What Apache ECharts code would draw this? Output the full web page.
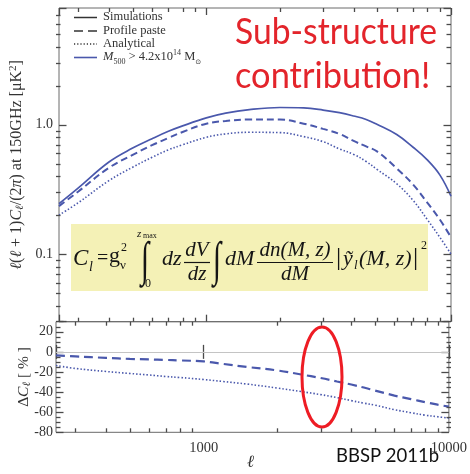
<!DOCTYPE html>
<html><head><meta charset="utf-8">
<script src="https://cdn.jsdelivr.net/npm/echarts@6/dist/echarts.min.js"></script>
<style>html,body{margin:0;padding:0;background:#fff}#c{width:470px;height:474px}</style>
</head><body><div id="c"></div>
<script>
// ---- data ----
const ell = [250,300,400,500,600,700,800,1000,1200,1500,2000,2500,3000,3500,4000,4500,5000,6000,7000,8000,9000,10000];
const simulations  = [0.245,0.325,0.515,0.66,0.78,0.89,0.98,1.13,1.23,1.31,1.36,1.35,1.30,1.24,1.17,1.10,1.005,0.84,0.67,0.535,0.41,0.28];
const profilePaste = [0.235,0.305,0.465,0.585,0.695,0.79,0.88,1.02,1.07,1.10,1.10,1.02,0.93,0.85,0.75,0.68,0.62,0.46,0.345,0.25,0.185,0.135];
const analytical   = [0.20,0.25,0.37,0.47,0.56,0.64,0.70,0.80,0.85,0.875,0.87,0.81,0.74,0.65,0.59,0.52,0.45,0.35,0.26,0.185,0.135,0.10];
const deltaProfile    = [-3.5,-4.5,-6,-7,-7.5,-8,-8.5,-9.5,-12,-15,-18.5,-22.5,-26,-29.5,-32.5,-35.5,-38.5,-43.5,-47,-50,-52.5,-54.5];
const deltaAnalytical = [-13.5,-16.5,-19.5,-21.5,-23,-24.5,-25.5,-27.5,-29.5,-32,-36,-39.5,-42.5,-45.5,-48.5,-51,-53,-57.5,-60.5,-63,-64.5,-66];
const xRange = [250, 10000];
const yTopRange = [0.03, 8];
const yBotRange = [-80, 30];
const xLabelValues = [1000, 10000];
const xMinorTicks = [300,400,500,600,700,800,900,2000,3000,4000,5000,6000,7000,8000,9000];
const yTopLabelValues = [0.1, 1];
const yTopLabelTexts = ['0.1', '1.0'];
const yTopMinorTicks = [0.04,0.05,0.06,0.07,0.08,0.09,0.2,0.3,0.4,0.5,0.6,0.7,0.8,0.9,2,3,4,5,6,7];
const yBotMinorTicks = [-75,-70,-65,-55,-50,-45,-35,-30,-25,-15,-10,-5,5,10,15,25];
const legendNames = ['Simulations','Profile paste','Analytical'];

// ---- styling ----
const BLUE = '#4a58ac';
const SERIF = 'Liberation Serif';
const FRAME = '#6a6a6a';
const TICK = '#4a4a4a';
const GRIDS = [
  {left: 56, top: 8, width: 395, height: 313.7},
  {left: 56, top: 321.7, width: 395, height: 110.6}
];
const zip = (xs, ys) => xs.map((x, i) => [x, ys[i]]);

function richSet(size, color) {
  const s = Math.round(size * 0.68);
  return {
    n:   {fontFamily: SERIF, fontSize: size, color: color, lineHeight: size + 2},
    i:   {fontFamily: SERIF, fontSize: size, color: color, fontStyle: 'italic', lineHeight: size + 2},
    sub: {fontFamily: SERIF, fontSize: s, color: color, fontStyle: 'italic', verticalAlign: 'bottom', lineHeight: s},
    sup: {fontFamily: SERIF, fontSize: s, color: color, verticalAlign: 'top', lineHeight: s}
  };
}

function T(text, x, y, st, extra) {
  return Object.assign({type: 'text', x: x, y: y, silent: true, z: 100, style: Object.assign({
    text: text, fill: '#151515', fontFamily: SERIF, fontSize: 22,
    align: 'left', verticalAlign: 'middle', textAlign: 'left', textVerticalAlign: 'middle'}, st || {})}, extra || {});
}
function L(x1, y1, x2, y2, st) {
  return {type: 'line', silent: true, z: 100, shape: {x1: x1, y1: y1, x2: x2, y2: y2}, style: Object.assign({stroke: '#151515', lineWidth: 1.2}, st || {})};
}
const IT = {fontStyle: 'italic'};
const CEN = {align: 'center', textAlign: 'center'};

const baseGraphic = [
  // legend
  L(74, 17.5, 97, 17.5, {stroke: '#333', lineWidth: 1.5}),
  L(74, 31, 97, 31, {stroke: '#333', lineWidth: 1.5, lineDash: [9, 5]}),
  L(74, 44, 97, 44, {stroke: '#333', lineWidth: 1.3, lineDash: [1.2, 2]}),
  L(74, 57.5, 97, 57.5, {stroke: BLUE, lineWidth: 1.6}),
  T(legendNames[0], 103, 17, {fontSize: 12.5, fill: '#333'}),
  T(legendNames[1], 103, 30.5, {fontSize: 12.5, fill: '#333'}),
  T(legendNames[2], 103, 43.5, {fontSize: 12.5, fill: '#333'}),
  T('{i|M}{sub|500}{n| > 4.2x10}{sup|14}{n| M}{sub2|⊙}', 103, 57, {fontSize: 12.5, fill: '#333', rich: {
    n: {fontFamily: SERIF, fontSize: 12.5, fill: '#333', lineHeight: 17},
    i: {fontFamily: SERIF, fontSize: 12.5, fill: '#333', fontStyle: 'italic', lineHeight: 17},
    sub: {fontFamily: SERIF, fontSize: 8, fill: '#333', verticalAlign: 'bottom', lineHeight: 8},
    sub2: {fontFamily: 'DejaVu Sans', fontSize: 7, fill: '#333', verticalAlign: 'bottom', lineHeight: 8},
    sup: {fontFamily: SERIF, fontSize: 8, fill: '#333', verticalAlign: 'top', lineHeight: 8}}}),
  // red title
  T('Sub-structure', 235, 32, {fontFamily: 'Lato', fontSize: 37, fill: '#e3242b'}, {scaleX: 0.91}),
  T('contribution!', 235, 76, {fontFamily: 'Lato', fontSize: 37, fill: '#e3242b'}, {scaleX: 0.93}),
  // formula box
  {type: 'rect', silent: true, z: 90, shape: {x: 71, y: 224, width: 357, height: 67}, style: {fill: '#f4f1b6'}},
  T('C', 73, 259, Object.assign({fontSize: 23}, IT)),
  T('l', 89, 267, Object.assign({fontSize: 14}, IT)),
  T('=', 97, 259, {fontSize: 20}),
  T('g', 109, 256, {fontSize: 22}),
  T('2', 121, 248, {fontSize: 12}),
  T('ν', 120, 266, {fontSize: 13}),
  T('∫', 141, 262, {fontSize: 30}, {scaleY: 1.6}),
  T('z', 137, 234, Object.assign({fontSize: 11}, IT)),
  T('max', 143, 236, {fontSize: 8}),
  T('0', 145, 284, {fontSize: 12}),
  T('dz', 162, 259, Object.assign({fontSize: 22}, IT)),
  T('dV', 197, 250, Object.assign({fontSize: 21}, IT, CEN)),
  L(184, 262.5, 210, 262.5),
  T('dz', 197, 274, Object.assign({fontSize: 21}, IT, CEN)),
  T('∫', 213, 262, {fontSize: 30}, {scaleY: 1.6}),
  T('dM', 225, 259, Object.assign({fontSize: 22}, IT)),
  T('dn(M, z)', 295, 250, Object.assign({fontSize: 21}, IT, CEN)),
  L(257, 262.5, 333, 262.5),
  T('dM', 295, 274, Object.assign({fontSize: 21}, IT, CEN)),
  T('|', 336, 258, {fontSize: 26}),
  T('ỹ', 343, 259, Object.assign({fontSize: 22}, IT)),
  T('l', 354, 266, Object.assign({fontSize: 13}, IT)),
  T('(M, z)', 359, 259, Object.assign({fontSize: 22}, IT)),
  T('|', 413, 258, {fontSize: 26}),
  T('2', 421, 246, {fontSize: 12}),
  // red ellipse
  {type: 'ellipse', silent: true, z: 100, shape: {cx: 322, cy: 377, rx: 20, ry: 50}, style: {fill: 'none', stroke: '#ee1c24', lineWidth: 3}},
  // x axis title and citation
  T('ℓ', 247, 463, Object.assign({fontSize: 17, fill: '#333'}, IT)),
  T('BBSP 2011b', 336, 456, {fontFamily: 'Lato', fontSize: 18.5, fill: '#111'})
];

// native major ticks (inside) on every edge
const majorTickX = {show: true, inside: true, length: 7, lineStyle: {color: TICK, width: 1.3}};
const majorTickY = {show: true, inside: true, length: 7.5, lineStyle: {color: TICK, width: 1.3}};
const hidden = {axisLine: {show: false}, axisLabel: {show: false}, splitLine: {show: false}};

const chart = echarts.init(document.getElementById('c'));
const option = {
  animation: false,
  backgroundColor: '#ffffff',
  grid: GRIDS.map(g => Object.assign({show: true, borderColor: FRAME, borderWidth: 1, backgroundColor: 'transparent'}, g)),
  xAxis: [
    Object.assign({type: 'log', gridIndex: 0, position: 'bottom', min: xRange[0], max: xRange[1], axisTick: majorTickX}, hidden),
    {type: 'log', gridIndex: 1, position: 'bottom', min: xRange[0], max: xRange[1], axisLine: {show: false}, axisTick: majorTickX, splitLine: {show: false},
     axisLabel: {color: '#333', fontFamily: SERIF, fontSize: 14.5, margin: 8, showMinLabel: true, showMaxLabel: true,
       formatter: v => { const k = xLabelValues.findIndex(t => Math.abs(Math.log10(v) - Math.log10(t)) < 1e-6); return k >= 0 ? String(xLabelValues[k]) : ''; }}},
    Object.assign({type: 'log', gridIndex: 0, position: 'top', min: xRange[0], max: xRange[1], axisTick: majorTickX}, hidden),
    Object.assign({type: 'log', gridIndex: 1, position: 'top', min: xRange[0], max: xRange[1], axisTick: majorTickX}, hidden)
  ],
  yAxis: [
    {type: 'log', gridIndex: 0, position: 'left', min: yTopRange[0], max: yTopRange[1], axisLine: {show: false}, axisTick: majorTickY, splitLine: {show: false},
     axisLabel: {color: '#333', fontFamily: SERIF, fontSize: 14, margin: 6,
       formatter: v => { const k = yTopLabelValues.findIndex(t => Math.abs(Math.log10(v) - Math.log10(t)) < 1e-6); return k >= 0 ? yTopLabelTexts[k] : ''; }},
     name: '{i|ℓ}{n|(}{i|ℓ}{n| + 1)}{i|C}{sub|ℓ}{n|/(2}{i|π}{n|) at 150GHz [μK}{sup|2}{n|]}',
     nameLocation: 'middle', nameGap: 33, nameRotate: 90, nameMoveOverlap: false,
     nameTextStyle: {fontFamily: SERIF, fontSize: 16, color: '#333', rich: richSet(16, '#333')}},
    {type: 'value', gridIndex: 1, position: 'left', min: yBotRange[0], max: yBotRange[1], interval: 20, axisLine: {show: false}, axisTick: majorTickY, splitLine: {show: false},
     axisLabel: {color: '#333', fontFamily: SERIF, fontSize: 14, margin: 3,
       formatter: v => (Math.round(v) % 20 === 0 ? String(Math.round(v)) : '')},
     name: '{n|Δ}{i|C}{sub|ℓ}{n| [ % ]}',
     nameLocation: 'middle', nameGap: 23, nameRotate: 90, nameMoveOverlap: false,
     nameTextStyle: {fontFamily: SERIF, fontSize: 15.5, color: '#333', rich: richSet(15.5, '#333')}},
    Object.assign({type: 'log', gridIndex: 0, position: 'right', min: yTopRange[0], max: yTopRange[1], axisTick: majorTickY}, hidden),
    Object.assign({type: 'value', gridIndex: 1, position: 'right', min: yBotRange[0], max: yBotRange[1], interval: 20, axisTick: majorTickY}, hidden)
  ],
  series: [
    {name: legendNames[0], type: 'line', xAxisIndex: 0, yAxisIndex: 0, data: zip(ell, simulations), showSymbol: false, smooth: 0.4, z: 3,
     lineStyle: {color: BLUE, width: 1.7}},
    {name: legendNames[1], type: 'line', xAxisIndex: 0, yAxisIndex: 0, data: zip(ell, profilePaste), showSymbol: false, smooth: 0.4, z: 3,
     lineStyle: {color: BLUE, width: 2, type: [7, 4]}},
    {name: legendNames[2], type: 'line', xAxisIndex: 0, yAxisIndex: 0, data: zip(ell, analytical), showSymbol: false, smooth: 0.4, z: 3,
     lineStyle: {color: BLUE, width: 1.6, type: [1.5, 2]}},
    {name: 'ΔProfile', type: 'line', xAxisIndex: 1, yAxisIndex: 1, data: zip(ell, deltaProfile), showSymbol: false, smooth: 0.4, z: 3,
     lineStyle: {color: BLUE, width: 2.2, type: [9, 5]},
     markLine: {silent: true, symbol: 'none', label: {show: false}, lineStyle: {color: '#c4c4c4', type: 'solid', width: 1}, data: [{yAxis: 0}]}},
    {name: 'ΔAnalytical', type: 'line', xAxisIndex: 1, yAxisIndex: 1, data: zip(ell, deltaAnalytical), showSymbol: false, smooth: 0.4, z: 3,
     lineStyle: {color: BLUE, width: 1.6, type: [1.5, 2]}}
  ]
};
chart.setOption(option);

// pixel of an axis value: through the chart's axes, with the same mapping as a fallback
function px(dir, gi, v) {
  let p = chart.convertToPixel(dir === 'x' ? {xAxisIndex: gi} : {yAxisIndex: gi}, v);
  if (Array.isArray(p)) p = dir === 'x' ? p[0] : p[1];
  p = Number(p);
  if (isFinite(p)) return p;
  const g = GRIDS[gi];
  if (dir === 'x') {
    return g.left + g.width * (Math.log10(v) - Math.log10(xRange[0])) / (Math.log10(xRange[1]) - Math.log10(xRange[0]));
  }
  if (gi === 0) {
    return g.top + g.height * (Math.log10(yTopRange[1]) - Math.log10(v)) / (Math.log10(yTopRange[1]) - Math.log10(yTopRange[0]));
  }
  return g.top + g.height * (yBotRange[1] - v) / (yBotRange[1] - yBotRange[0]);
}

// minor ticks on all four edges
function minorTickLines() {
  const els = [];
  const st = () => ({stroke: TICK, lineWidth: 1.3});
  GRIDS.forEach(function (g, gi) {
    xMinorTicks.forEach(function (v) {
      const x = Math.round(px('x', gi, v)) + 0.5;
      els.push(L(x, g.top, x, g.top + 4, st()));
      els.push(L(x, g.top + g.height, x, g.top + g.height - 4, st()));
    });
    (gi === 0 ? yTopMinorTicks : yBotMinorTicks).forEach(function (v) {
      const y = Math.round(px('y', gi, v)) + 0.5;
      els.push(L(g.left, y, g.left + 4.5, y, st()));
      els.push(L(g.left + g.width, y, g.left + g.width - 4.5, y, st()));
    });
  });
  return els;
}
let tickEls = [];
try { tickEls = minorTickLines(); } catch (e) { tickEls = []; }
chart.setOption({graphic: {elements: baseGraphic.concat(tickEls)}});
</script>
</body></html>
